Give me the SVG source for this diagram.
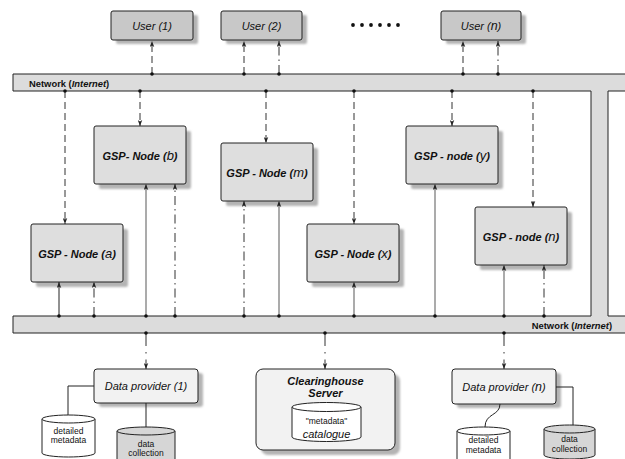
<svg xmlns="http://www.w3.org/2000/svg" width="625" height="459" viewBox="0 0 625 459">
  <defs>
    <marker id="arr" viewBox="0 0 8 6" refX="8" refY="3" markerWidth="6" markerHeight="5" markerUnits="userSpaceOnUse" orient="auto">
      <path d="M0,0 L8,3 L0,6 L2,3 Z" fill="#222"/>
    </marker>
    <filter id="soft" x="-10%" y="-10%" width="130%" height="130%">
      <feGaussianBlur stdDeviation="0.8"/>
    </filter>
    <style>
      .net { fill: #dcdcdc; stroke: #222; stroke-width: 1; }
      .shadow { fill: #b4b4b4; filter: url(#soft); }
      .user { fill: #c8c8c8; stroke: #222; stroke-width: 1; }
      .gsp { fill: #dedede; stroke: #222; stroke-width: 1; }
      .prov { fill: #f2f2f2; stroke: #222; stroke-width: 1; }
      .cyl { fill: #ffffff; stroke: #222; stroke-width: 1; }
      .cylg { fill: #d6d6d6; stroke: #222; stroke-width: 1; }
      .dot { fill: #111; }
      .dash { stroke: #333; stroke-width: 1; fill: none; stroke-dasharray: 7,4; }
      .dashdot { stroke: #333; stroke-width: 1; fill: none; stroke-dasharray: 9,4,1.5,4; }
      .sparse { stroke: #333; stroke-width: 1; fill: none; stroke-dasharray: 13,6,1.5,6; }
      .solid { stroke: #666; stroke-width: 1.1; fill: none; }
      .link { stroke: #222; stroke-width: 1; fill: none; }
      .t { font-family: "Liberation Sans", Arial, sans-serif; fill: #111; }
      .lbl { font-size: 11px; font-weight: bold; font-style: italic; text-anchor: middle; }
      .ital { font-size: 11px; font-style: italic; text-anchor: middle; }
      .small { font-size: 8.5px; text-anchor: middle; }
      .netlbl { font-size: 9.4px; font-weight: bold; }
    </style>
  </defs>

  <!-- network ring: top bus, right riser, bottom bus -->
  <g id="network">
    <path class="net" d="M13,74 H630 V91 H608 V316 H630 V333 H13 V316 H591 V91 H13 Z"/>
    <text class="t netlbl" x="29" y="86.5">Network (<tspan font-style="italic">Internet</tspan>)</text>
    <text class="t netlbl" x="612" y="329" text-anchor="end">Network (<tspan font-style="italic">Internet</tspan>)</text>
  </g>

  <!-- users -->
  <g id="user-1">
    <rect class="shadow" x="116" y="15" width="82" height="29" rx="2"/>
    <rect class="user" x="111" y="11" width="82" height="29" rx="2"/>
    <text class="t ital" x="152" y="30">User (<tspan>1</tspan>)</text>
  </g>
  <g id="user-2">
    <rect class="shadow" x="226" y="15" width="81" height="29" rx="2"/>
    <rect class="user" x="221" y="11" width="81" height="29" rx="2"/>
    <text class="t ital" x="261.5" y="30">User (2)</text>
  </g>
  <g id="ellipsis">
    <circle class="dot" cx="353" cy="25" r="1.9"/>
    <circle class="dot" cx="362" cy="25" r="1.9"/>
    <circle class="dot" cx="371" cy="25" r="1.9"/>
    <circle class="dot" cx="380" cy="25" r="1.9"/>
    <circle class="dot" cx="389" cy="25" r="1.9"/>
    <circle class="dot" cx="398" cy="25" r="1.9"/>
  </g>
  <g id="user-n">
    <rect class="shadow" x="446" y="15" width="80" height="29" rx="2"/>
    <rect class="user" x="441" y="11" width="80" height="29" rx="2"/>
    <text class="t ital" x="481" y="30">User (<tspan font-size="12.5px">n</tspan>)</text>
  </g>

  <!-- GSP nodes -->
  <g id="gsp-a">
    <rect class="shadow" x="36" y="229" width="92" height="58" rx="2"/>
    <rect class="gsp" x="31" y="224" width="92" height="58" rx="2"/>
    <text class="t lbl" x="77" y="258">GSP - Node (<tspan font-size="13px" font-weight="normal">a</tspan>)</text>
  </g>
  <g id="gsp-b">
    <rect class="shadow" x="99" y="131" width="92" height="58" rx="2"/>
    <rect class="gsp" x="94" y="126" width="92" height="58" rx="2"/>
    <text class="t lbl" x="140" y="160">GSP- Node (<tspan font-size="13px" font-weight="normal">b</tspan>)</text>
  </g>
  <g id="gsp-m">
    <rect class="shadow" x="226" y="148" width="92" height="58" rx="2"/>
    <rect class="gsp" x="221" y="143" width="92" height="58" rx="2"/>
    <text class="t lbl" x="267" y="177">GSP - Node (<tspan font-size="13px" font-weight="normal">m</tspan>)</text>
  </g>
  <g id="gsp-x">
    <rect class="shadow" x="312" y="229" width="92" height="58" rx="2"/>
    <rect class="gsp" x="307" y="224" width="92" height="58" rx="2"/>
    <text class="t lbl" x="353" y="258">GSP - Node (<tspan font-size="13px" font-weight="normal">x</tspan>)</text>
  </g>
  <g id="gsp-y">
    <rect class="shadow" x="411" y="131" width="92" height="58" rx="2"/>
    <rect class="gsp" x="406" y="126" width="92" height="58" rx="2"/>
    <text class="t lbl" x="452" y="160">GSP - node (<tspan font-size="13px" font-weight="normal">y</tspan>)</text>
  </g>
  <g id="gsp-n">
    <rect class="shadow" x="480" y="212" width="92" height="58" rx="2"/>
    <rect class="gsp" x="475" y="207" width="92" height="58" rx="2"/>
    <text class="t lbl" x="521" y="241">GSP - node (<tspan font-size="13px" font-weight="normal">n</tspan>)</text>
  </g>

  <!-- data provider 1 with its stores -->
  <g id="provider-1">
    <rect class="shadow" x="99" y="373" width="104" height="34" rx="3"/>
    <rect class="prov" x="94" y="369" width="104" height="34" rx="3"/>
    <text class="t ital" x="146" y="390">Data provider (<tspan>1</tspan>)</text>
  </g>
  <g id="metadata-1">
    <path class="cyl" d="M42,419 A26.5,4 0 0 1 95,419 V453 A26.5,4 0 0 1 42,453 Z"/>
    <path class="cyl" d="M42,419 A26.5,4 0 0 0 95,419" fill="none"/>
    <text class="t small" x="68.5" y="433.5">detailed</text>
    <text class="t small" x="68.5" y="443">metadata</text>
  </g>
  <g id="collection-1">
    <path class="cylg" d="M117,431 A29,4 0 0 1 175,431 V466 A29,4 0 0 1 117,466 Z"/>
    <path class="cylg" d="M117,431 A29,4 0 0 0 175,431" fill="none"/>
    <text class="t small" x="146" y="446.5">data</text>
    <text class="t small" x="146" y="456">collection</text>
  </g>

  <!-- clearinghouse -->
  <g id="clearinghouse">
    <rect class="shadow" x="261" y="374" width="139" height="81" rx="7"/>
    <rect class="prov" x="256" y="369" width="139" height="81" rx="7" fill="#f7f7f7"/>
    <text class="t lbl" x="325.5" y="385" font-size="11.5px">Clearinghouse</text>
    <text class="t lbl" x="325.5" y="397" font-size="11.5px">Server</text>
    <path class="cyl" d="M292,407 A34.5,4.5 0 0 1 361,407 V437 A34.5,4.5 0 0 1 292,437 Z"/>
    <path class="cyl" d="M292,407 A34.5,4.5 0 0 0 361,407" fill="none"/>
    <text class="t small" x="326.5" y="424" font-size="8.5px">"metadata"</text>
    <text class="t ital" x="326.5" y="438" font-size="12px">catalogue</text>
  </g>

  <!-- data provider n with its stores -->
  <g id="provider-n">
    <rect class="shadow" x="457" y="373" width="104" height="35" rx="3"/>
    <rect class="prov" x="452" y="369" width="104" height="35" rx="3"/>
    <text class="t ital" x="504" y="391">Data provider (<tspan font-size="12.5px">n</tspan>)</text>
  </g>
  <g id="metadata-n">
    <path class="cyl" d="M457,431 A26.5,4 0 0 1 510,431 V465 A26.5,4 0 0 1 457,465 Z"/>
    <path class="cyl" d="M457,431 A26.5,4 0 0 0 510,431" fill="none"/>
    <text class="t small" x="483.5" y="443">detailed</text>
    <text class="t small" x="483.5" y="452.5">metadata</text>
  </g>
  <g id="collection-n">
    <path class="cylg" d="M544,429 A25.5,4 0 0 1 595,429 V455 A25.5,4 0 0 1 544,455 Z"/>
    <path class="cylg" d="M544,429 A25.5,4 0 0 0 595,429" fill="none"/>
    <text class="t small" x="569.5" y="442">data</text>
    <text class="t small" x="569.5" y="451.5">collection</text>
  </g>

  <!-- connectors -->
  <g id="connectors">
    <!-- network to users -->
    <path class="dash" d="M152,74 V41" marker-end="url(#arr)"/>
    <path class="dash" d="M244,74 V41" marker-end="url(#arr)"/>
    <path class="dashdot" d="M279,74 V41" marker-end="url(#arr)"/>
    <path class="dash" d="M463,74 V41" marker-end="url(#arr)"/>
    <path class="dashdot" d="M498,74 V41" marker-end="url(#arr)"/>

    <!-- top bus down to nodes -->
    <path class="dash" d="M65,91 V224" marker-end="url(#arr)"/>
    <path class="dash" d="M140,91 V126" marker-end="url(#arr)"/>
    <path class="dash" d="M266,91 V143" marker-end="url(#arr)" stroke-width="1.3"/>
    <path class="dash" d="M354,91 V224" marker-end="url(#arr)"/>
    <path class="dash" d="M452,91 V126" marker-end="url(#arr)"/>
    <path class="dash" d="M533,91 V207" marker-end="url(#arr)"/>

    <!-- bottom bus up to nodes -->
    <path class="link" d="M59,316 V282" marker-end="url(#arr)"/>
    <path class="dashdot" d="M94,316 V282" marker-end="url(#arr)"/>
    <path class="solid" d="M146,316 V184" marker-end="url(#arr)"/>
    <path class="dashdot" d="M175,316 V184" marker-end="url(#arr)"/>
    <path class="dashdot" d="M244,316 V201" marker-end="url(#arr)"/>
    <path class="solid" d="M279,316 V201" marker-end="url(#arr)"/>
    <path class="solid" d="M354,316 V282" marker-end="url(#arr)"/>
    <path class="solid" d="M435,316 V184" marker-end="url(#arr)"/>
    <path class="solid" d="M504,316 V265" marker-end="url(#arr)"/>
    <path class="dashdot" d="M544,316 V265" marker-end="url(#arr)"/>

    <!-- bottom bus down to providers -->
    <path class="sparse" d="M146,333 V369" marker-end="url(#arr)"/>
    <path class="sparse" d="M325,333 V369" marker-end="url(#arr)"/>
    <path class="sparse" d="M504,333 V369" marker-end="url(#arr)"/>

    <!-- providers to stores -->
    <path class="link" d="M94,386 H68 V415"/>
    <path class="link" d="M146,403 V427"/>
    <path class="link" d="M500,404 C500,416 485,413 485,427"/>
    <path class="link" d="M556,387 H573 V425"/>

    <!-- junction dots -->
    <g class="dot">
      <circle cx="152" cy="74" r="1.8"/><circle cx="244" cy="74" r="1.8"/><circle cx="279" cy="74" r="1.8"/>
      <circle cx="463" cy="74" r="1.8"/><circle cx="498" cy="74" r="1.8"/>
      <circle cx="65" cy="91" r="1.8"/><circle cx="140" cy="91" r="1.8"/><circle cx="266" cy="91" r="1.8"/>
      <circle cx="354" cy="91" r="1.8"/><circle cx="452" cy="91" r="1.8"/><circle cx="533" cy="91" r="1.8"/>
      <circle cx="59" cy="316" r="1.8"/><circle cx="94" cy="316" r="1.8"/><circle cx="146" cy="316" r="1.8"/>
      <circle cx="175" cy="316" r="1.8"/><circle cx="244" cy="316" r="1.8"/><circle cx="279" cy="316" r="1.8"/>
      <circle cx="354" cy="316" r="1.8"/><circle cx="435" cy="316" r="1.8"/><circle cx="504" cy="316" r="1.8"/>
      <circle cx="544" cy="316" r="1.8"/>
      <circle cx="146" cy="333" r="1.8"/><circle cx="325" cy="333" r="1.8"/><circle cx="504" cy="333" r="1.8"/>
    </g>
  </g>
</svg>
